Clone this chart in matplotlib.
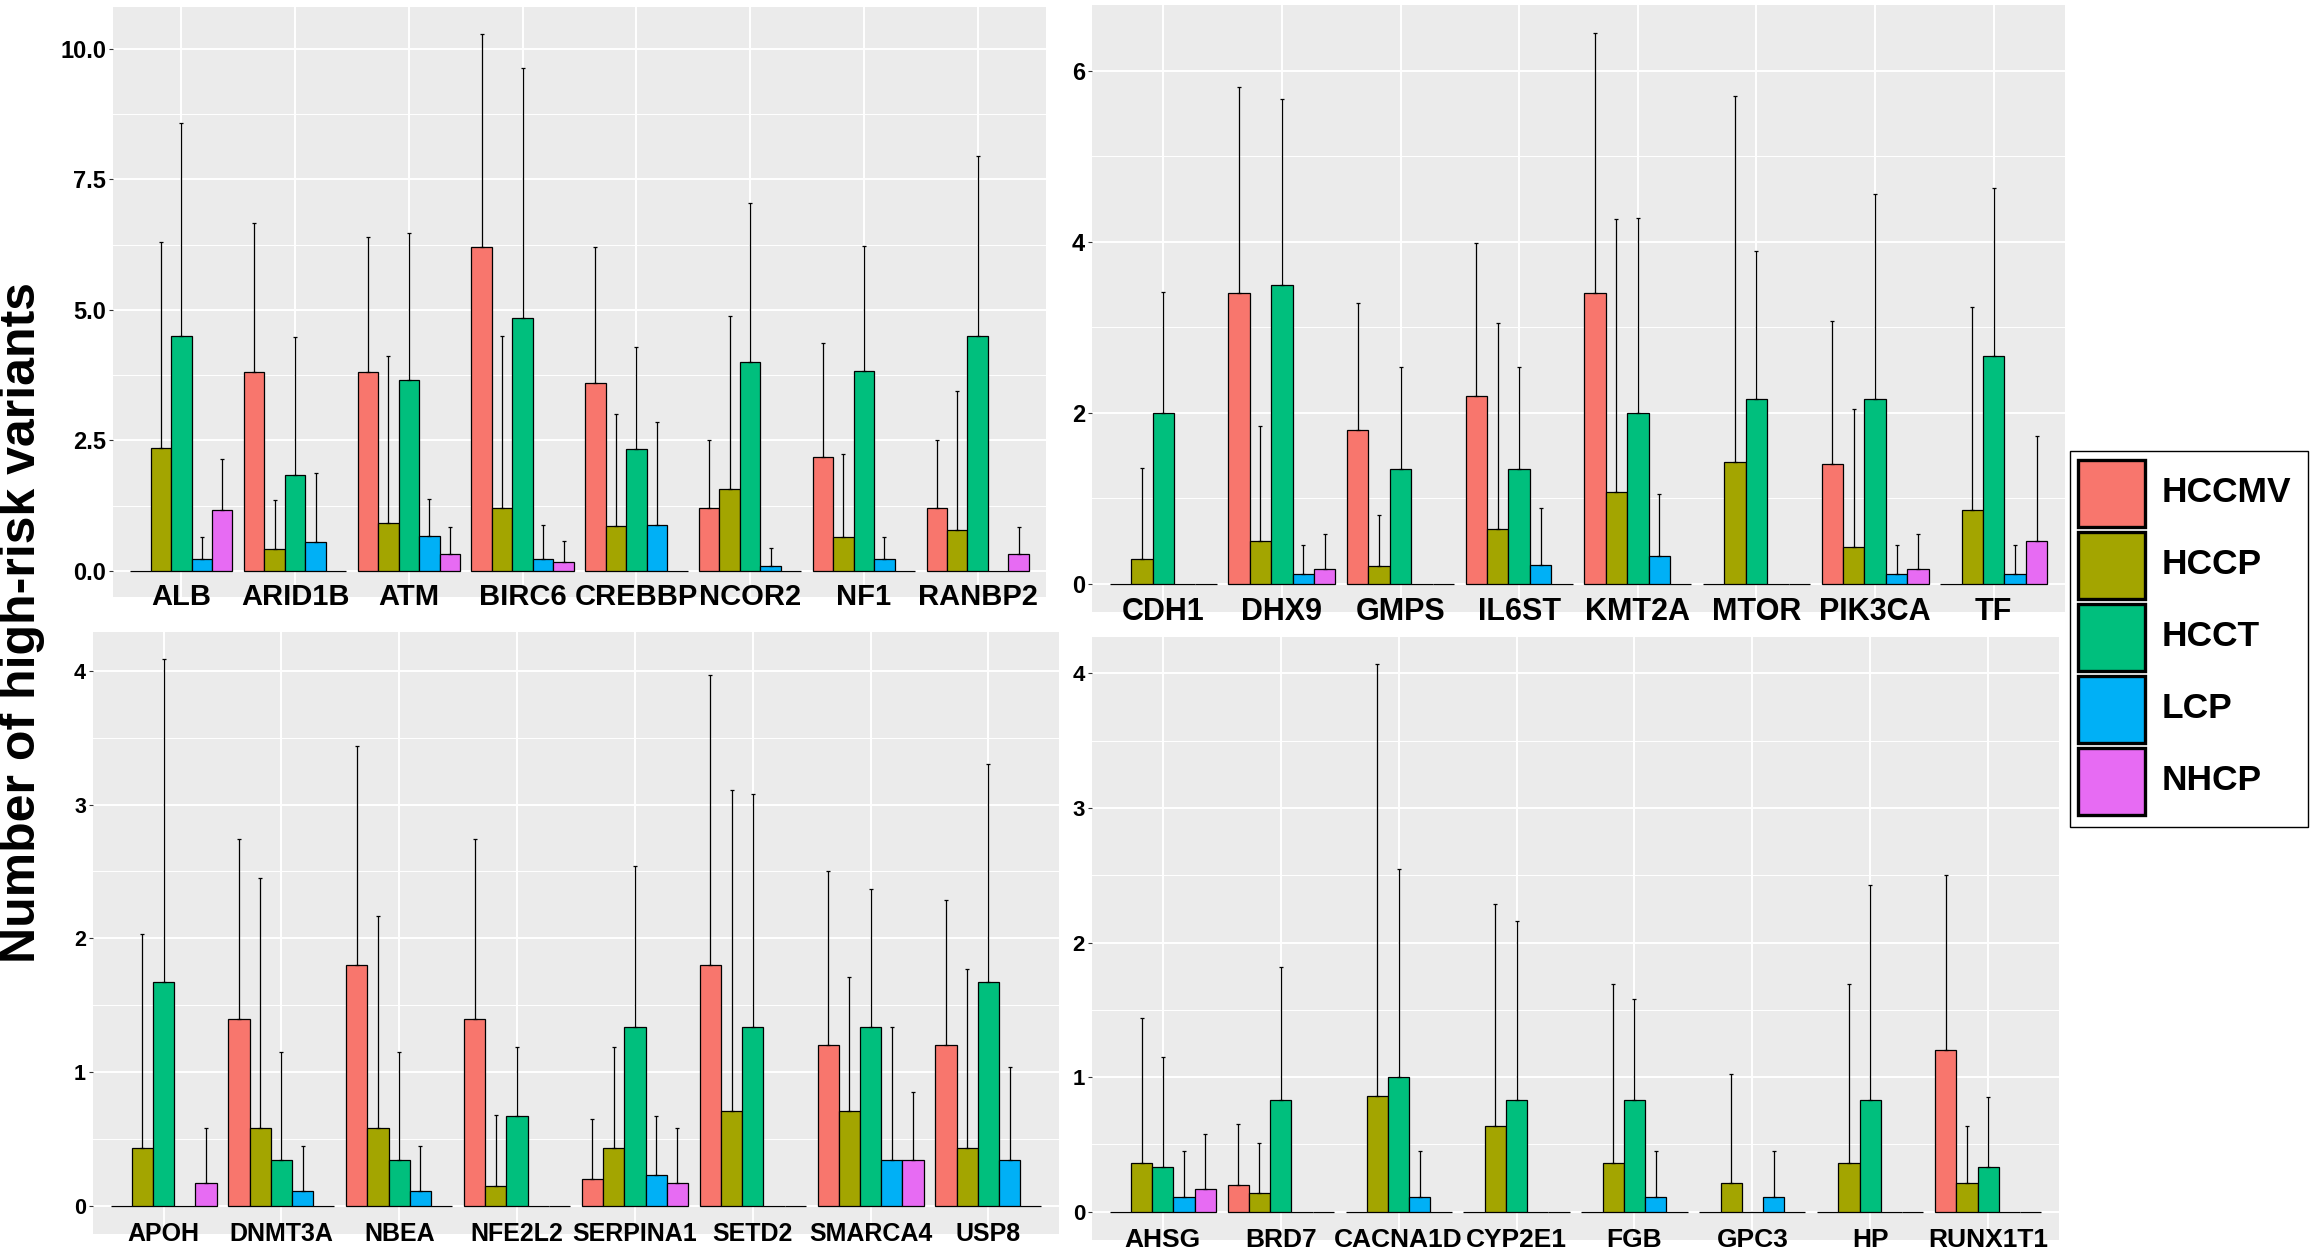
import numpy as np
import matplotlib
matplotlib.use('Agg')
import matplotlib.pyplot as plt
from matplotlib.patches import Rectangle

plt.rcParams['font.family'] = ['Liberation Sans', 'DejaVu Sans']

groups = ['HCCMV', 'HCCP', 'HCCT', 'LCP', 'NHCP']
colors = ['#F8766D', '#A3A500', '#00BF7D', '#00B0F6', '#E76BF3']

# top left panel
genes_a = ['ALB', 'ARID1B', 'ATM', 'BIRC6', 'CREBBP', 'NCOR2', 'NF1', 'RANBP2']
mean_a = [
    [0.00, 3.80, 3.80, 6.20, 3.60, 1.20, 2.19, 1.20],
    [2.36, 0.42, 0.92, 1.21, 0.86, 1.57, 0.64, 0.78],
    [4.50, 1.83, 3.66, 4.84, 2.33, 4.00, 3.83, 4.50],
    [0.23, 0.55, 0.66, 0.23, 0.88, 0.10, 0.23, 0.00],
    [1.16, 0.00, 0.33, 0.17, 0.00, 0.00, 0.00, 0.33],
]
top_a = [
    [0.00, 6.66, 6.40, 10.29, 6.21, 2.51, 4.36, 2.51],
    [6.30, 1.35, 4.12, 4.50, 3.00, 4.89, 2.24, 3.45],
    [8.58, 4.48, 6.47, 9.64, 4.29, 7.04, 6.23, 7.95],
    [0.65, 1.88, 1.37, 0.88, 2.85, 0.44, 0.65, 0.00],
    [2.15, 0.00, 0.84, 0.57, 0.00, 0.00, 0.00, 0.84],
]

# top right panel
genes_b = ['CDH1', 'DHX9', 'GMPS', 'IL6ST', 'KMT2A', 'MTOR', 'PIK3CA', 'TF']
mean_b = [
    [0.00, 3.40, 1.80, 2.20, 3.40, 0.00, 1.40, 0.00],
    [0.29, 0.50, 0.21, 0.64, 1.07, 1.43, 0.43, 0.86],
    [2.00, 3.49, 1.34, 1.34, 2.00, 2.16, 2.16, 2.67],
    [0.00, 0.11, 0.00, 0.22, 0.33, 0.00, 0.11, 0.11],
    [0.00, 0.17, 0.00, 0.00, 0.00, 0.00, 0.17, 0.50],
]
top_b = [
    [0.00, 5.81, 3.28, 3.99, 6.44, 0.00, 3.07, 0.00],
    [1.36, 1.85, 0.80, 3.05, 4.27, 5.70, 2.04, 3.24],
    [3.41, 5.67, 2.54, 2.54, 4.28, 3.89, 4.56, 4.63],
    [0.00, 0.45, 0.00, 0.89, 1.05, 0.00, 0.45, 0.45],
    [0.00, 0.58, 0.00, 0.00, 0.00, 0.00, 0.58, 1.73],
]

# bottom left panel
genes_c = ['APOH', 'DNMT3A', 'NBEA', 'NFE2L2', 'SERPINA1', 'SETD2', 'SMARCA4', 'USP8']
mean_c = [
    [0.00, 1.40, 1.80, 1.40, 0.20, 1.80, 1.20, 1.20],
    [0.43, 0.58, 0.58, 0.15, 0.43, 0.71, 0.71, 0.43],
    [1.67, 0.34, 0.34, 0.67, 1.34, 1.34, 1.34, 1.67],
    [0.00, 0.11, 0.11, 0.00, 0.23, 0.00, 0.34, 0.34],
    [0.17, 0.00, 0.00, 0.00, 0.17, 0.00, 0.34, 0.00],
]
top_c = [
    [0.00, 2.74, 3.44, 2.74, 0.65, 3.97, 2.50, 2.29],
    [2.03, 2.45, 2.17, 0.68, 1.19, 3.11, 1.71, 1.77],
    [4.09, 1.15, 1.15, 1.19, 2.54, 3.08, 2.37, 3.30],
    [0.00, 0.45, 0.45, 0.00, 0.67, 0.00, 1.34, 1.04],
    [0.58, 0.00, 0.00, 0.00, 0.58, 0.00, 0.85, 0.00],
]

# bottom right panel
genes_d = ['AHSG', 'BRD7', 'CACNA1D', 'CYP2E1', 'FGB', 'GPC3', 'HP', 'RUNX1T1']
mean_d = [
    [0.00, 0.20, 0.00, 0.00, 0.00, 0.00, 0.00, 1.20],
    [0.36, 0.14, 0.86, 0.64, 0.36, 0.21, 0.36, 0.21],
    [0.33, 0.83, 1.00, 0.83, 0.83, 0.00, 0.83, 0.33],
    [0.11, 0.00, 0.11, 0.00, 0.11, 0.11, 0.00, 0.00],
    [0.17, 0.00, 0.00, 0.00, 0.00, 0.00, 0.00, 0.00],
]
top_d = [
    [0.00, 0.65, 0.00, 0.00, 0.00, 0.00, 0.00, 2.50],
    [1.44, 0.51, 4.07, 2.29, 1.69, 1.02, 1.69, 0.64],
    [1.15, 1.82, 2.55, 2.16, 1.58, 0.00, 2.43, 0.85],
    [0.45, 0.00, 0.45, 0.00, 0.45, 0.45, 0.00, 0.00],
    [0.58, 0.00, 0.00, 0.00, 0.00, 0.00, 0.00, 0.00],
]

W, H = 2312, 1257
fig = plt.figure(figsize=(W / 100, H / 100), dpi=100)


def px_rect(left, right, top, bottom):
    return [left / W, 1 - bottom / H, (right - left) / W, (bottom - top) / H]


def draw_panel(rect, genes, means, tops, ylim, yticks, ylabels, xsize, ysize):
    ax = fig.add_axes(rect)
    ax.set_facecolor('#EBEBEB')
    x = np.arange(len(genes))
    width = 0.18
    for i in range(len(groups)):
        m = np.array(means[i])
        t = np.array(tops[i])
        pos = x + (i - 2) * width
        ax.bar(pos, m, width, color=colors[i], edgecolor='black', linewidth=0.9, zorder=3)
        err = t - m
        has = err > 0
        ax.errorbar(pos[has], m[has], yerr=[np.zeros(has.sum()), err[has]], fmt='none',
                    ecolor='black', elinewidth=0.9, capsize=1.5, capthick=0.9, zorder=4)
    ax.set_xlim(-0.6, len(genes) - 0.4)
    ax.set_ylim(*ylim)
    ax.set_xticks(x)
    ax.set_xticklabels(genes, fontsize=xsize, fontweight='bold', va='center')
    ax.set_yticks(yticks)
    ax.set_yticklabels(ylabels, fontsize=ysize, fontweight='bold')
    minor = [(a + b) / 2 for a, b in zip(yticks[:-1], yticks[1:])]
    ax.set_yticks(minor, minor=True)
    ax.tick_params(axis='x', length=0, pad=0)
    ax.tick_params(axis='y', length=3, color='#333333', pad=2)
    ax.tick_params(axis='y', which='minor', length=0)
    ax.grid(True, which='major', color='white', linewidth=1.4)
    ax.grid(True, which='minor', axis='y', color='white', linewidth=0.7)
    ax.set_axisbelow(True)
    for s in ax.spines.values():
        s.set_visible(False)
    return ax


draw_panel(px_rect(113, 1046, 7, 597), genes_a, mean_a, top_a, (-0.50, 10.80),
           [0, 2.5, 5, 7.5, 10], ['0.0', '2.5', '5.0', '7.5', '10.0'], 21, 17)
draw_panel(px_rect(1092, 2065, 5, 612), genes_b, mean_b, top_b, (-0.33, 6.77),
           [0, 2, 4, 6], ['0', '2', '4', '6'], 22, 17)
draw_panel(px_rect(93, 1059, 632, 1234), genes_c, mean_c, top_c, (-0.21, 4.29),
           [0, 1, 2, 3, 4], ['0', '1', '2', '3', '4'], 18, 15.5)
draw_panel(px_rect(1092, 2059, 637, 1240), genes_d, mean_d, top_d, (-0.21, 4.27),
           [0, 1, 2, 3, 4], ['0', '1', '2', '3', '4'], 19, 16)

fig.text(22 / W, 1 - 623 / H, 'Number of high-risk variants', rotation=90,
         fontsize=36, fontweight='bold', ha='center', va='center')

# legend box drawn in figure pixels
frame = Rectangle((2070 / W, 1 - 827 / H), 238 / W, 376 / H, transform=fig.transFigure,
                  facecolor='white', edgecolor='black', linewidth=1.0)
fig.patches.append(frame)
for k, (g, c) in enumerate(zip(groups, colors)):
    ktop = 460 + k * 72
    key = Rectangle((2078 / W, 1 - (ktop + 67) / H), 67 / W, 67 / H, transform=fig.transFigure,
                    facecolor=c, edgecolor='black', linewidth=2.4)
    fig.patches.append(key)
    fig.text(2162 / W, 1 - (ktop + 32) / H, g, fontsize=25.5, fontweight='bold',
             ha='left', va='center')

fig.savefig('out.png', dpi=100)
